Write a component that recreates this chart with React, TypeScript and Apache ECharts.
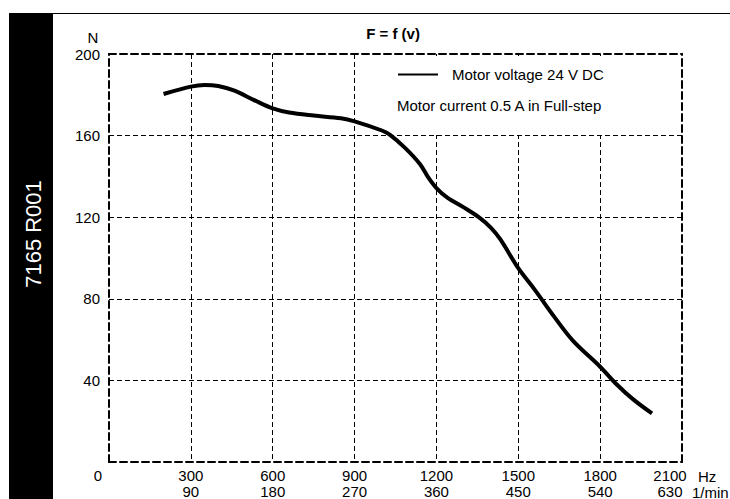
import React, { useEffect, useRef } from "react";
import * as echarts from "echarts";

const speedHz = [200, 300, 350, 400, 460, 530, 600, 660, 750, 850, 900, 1000, 1030, 1085, 1140, 1170, 1200, 1240, 1300, 1355, 1400, 1435, 1500, 1560, 1630, 1700, 1800, 1860, 1920, 1990];
const forceN = [180.4, 184, 184.8, 184.3, 182, 177.5, 173.3, 171.3, 169.8, 168.5, 167, 162.5, 160.4, 154, 146, 139.5, 134.3, 129.6, 124.8, 120, 114.8, 109, 95, 84.5, 71.5, 59.5, 46.7, 38.1, 30.8, 23.8];

const hzTicks = [0, 300, 600, 900, 1200, 1500, 1800, 2100];
const rpmTicks = ["", "90", "180", "270", "360", "450", "540", "630"];
const yTicks = [0, 40, 80, 120, 160, 200];

const seriesName = "Motor voltage 24 V DC";
const noteText = "Motor current 0.5 A in Full-step";
const titleText = "F = f (v)";
const docCode = "7165 R001";

const FONT = "'Liberation Sans', Arial, Helvetica, sans-serif";

export default function App() {
  const ref = useRef<HTMLDivElement>(null);
  useEffect(() => {
    if (!ref.current) return;
    const chart = echarts.init(ref.current, null, { renderer: "svg" });
    const frameLine = { show: true, onZero: false, lineStyle: { color: "#000", width: 2, type: [7, 4] as any } };
    const gridLine = { show: true, showMinLine: false, showMaxLine: false, lineStyle: { color: "#000", width: 1, type: [5, 3] as any } };
    chart.setOption({
      animation: false,
      backgroundColor: "#fff",
      textStyle: { fontFamily: FONT },
      grid: { left: 109, top: 54, width: 573, height: 409, containLabel: false },
      legend: {
        data: [{ name: seriesName, icon: "rect" }],
        left: 398,
        top: 67,
        padding: 0,
        z: 5,
        itemWidth: 40,
        itemHeight: 2,
        textStyle: { fontSize: 15, color: "#000", fontFamily: FONT, padding: [0, 0, 0, 9] },
      },
      xAxis: [
        {
          type: "value",
          min: 0,
          max: 2100,
          interval: 300,
          position: "bottom",
          axisLine: frameLine,
          axisTick: { show: false },
          splitLine: gridLine,
          axisLabel: {
            margin: 5,
            color: "#000",
            fontSize: 15,
            lineHeight: 16,
            fontFamily: FONT,
            showMinLabel: true,
            showMaxLabel: true,
            formatter: (v: number) => {
              const i = hzTicks.indexOf(v);
              if (i < 0) return "";
              if (i === 0) return "{first|" + hzTicks[i] + "}";
              if (i === hzTicks.length - 1) return "{last|" + hzTicks[i] + "}\n{last|" + rpmTicks[i] + "}";
              return "{n|" + hzTicks[i] + "}\n{n|" + rpmTicks[i] + "}";
            },
            rich: {
              n: { fontSize: 15, lineHeight: 16, color: "#000", fontFamily: FONT },
              first: { fontSize: 15, lineHeight: 16, color: "#000", fontFamily: FONT, padding: [0, 22, 0, 0] },
              last: { fontSize: 15, lineHeight: 16, color: "#000", fontFamily: FONT, padding: [0, 24, 0, 0] },
            },
          },
        },
        {
          type: "value",
          min: 0,
          max: 2100,
          interval: 300,
          position: "top",
          axisLine: frameLine,
          axisTick: { show: false },
          axisLabel: { show: false },
          splitLine: { show: false },
        },
      ],
      yAxis: [
        {
          type: "value",
          min: 0,
          max: 200,
          interval: 40,
          position: "left",
          axisLine: frameLine,
          axisTick: { show: false },
          splitLine: gridLine,
          axisLabel: {
            margin: 9,
            color: "#000",
            fontSize: 15,
            fontFamily: FONT,
            formatter: (v: number) => (v === 0 || yTicks.indexOf(v) < 0 ? "" : String(v)),
          },
        },
        {
          type: "value",
          min: 0,
          max: 200,
          interval: 40,
          position: "right",
          axisLine: frameLine,
          axisTick: { show: false },
          axisLabel: { show: false },
          splitLine: { show: false },
        },
      ],
      series: [
        {
          name: seriesName,
          type: "line",
          z: 3,
          data: speedHz.map((x, i) => [x, forceN[i]]),
          smooth: 0.35,
          showSymbol: false,
          symbol: "none",
          lineStyle: { color: "#000", width: 4 },
          itemStyle: { color: "#000" },
        },
      ],
      graphic: [
        { type: "rect", z: 1, shape: { x: 385, y: 56, width: 295.5, height: 79 }, style: { fill: "#fff" } },
        { type: "rect", shape: { x: 9, y: 13, width: 44, height: 486 }, style: { fill: "#000" } },
        { type: "line", shape: { x1: 9, y1: 13.5, x2: 730, y2: 13.5 }, style: { stroke: "#000", lineWidth: 1 } },
        {
          type: "text",
          x: 33,
          y: 234,
          rotation: Math.PI / 2,
          style: { text: docCode, fill: "#fff", font: "22px " + FONT, textAlign: "center", textVerticalAlign: "middle" },
        },
        {
          type: "text",
          x: 393,
          y: 33,
          style: { text: titleText, fill: "#000", font: "bold 15px " + FONT, textAlign: "center", textVerticalAlign: "middle" },
        },
        {
          type: "text",
          x: 93,
          y: 37,
          style: { text: "N", fill: "#000", font: "15px " + FONT, textAlign: "center", textVerticalAlign: "middle" },
        },
        {
          type: "text",
          z: 5,
          x: 397,
          y: 105,
          style: { text: noteText, fill: "#000", font: "15px " + FONT, textAlign: "left", textVerticalAlign: "middle" },
        },
        {
          type: "text",
          x: 698,
          y: 476,
          style: { text: "Hz", fill: "#000", font: "15px " + FONT, textAlign: "left", textVerticalAlign: "middle" },
        },
        {
          type: "text",
          x: 692,
          y: 492,
          style: { text: "1/min", fill: "#000", font: "15px " + FONT, textAlign: "left", textVerticalAlign: "middle" },
        },
      ],
    });
    return () => chart.dispose();
  }, []);
  return <div ref={ref} style={{ position: "absolute", left: 0, top: 0, width: 730, height: 499 }} />;
}
